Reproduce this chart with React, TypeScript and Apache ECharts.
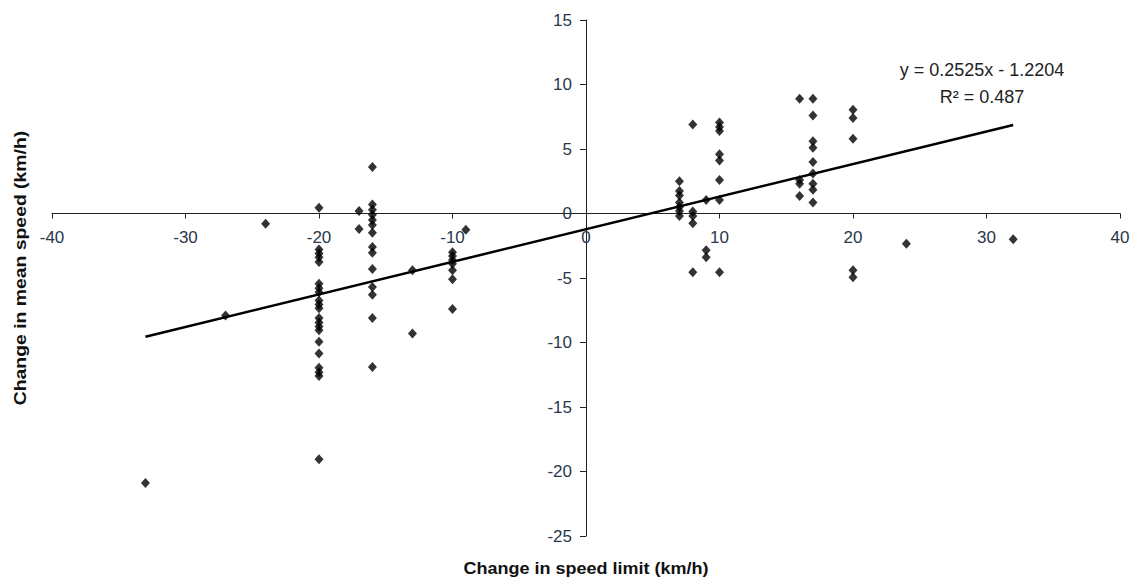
import React, { useEffect, useRef } from "react";
import * as echarts from "echarts";

// Change in speed limit (km/h) levels and the observed change in mean speed (km/h) at each
const speedLimitChanges = [-33, -27, -24, -20, -17, -16, -13, -10, -9, 7, 8, 9, 10, 16, 17, 20, 24, 32];
const meanSpeedChanges: number[][] = [
  [-20.9],
  [-7.9],
  [-0.8],
  [0.45, -2.8, -3.1, -3.4, -3.75, -5.45, -5.8, -6.1, -6.75, -7.05, -7.35, -8.1, -8.45, -8.75, -9.05, -9.95, -10.85, -11.95, -12.3, -12.6, -19.05],
  [0.2, -1.2],
  [3.6, 0.7, 0.3, -0.1, -0.5, -0.9, -1.5, -2.6, -3.05, -4.3, -5.7, -6.3, -8.1, -11.9],
  [-4.4, -9.3],
  [-3.0, -3.3, -3.6, -3.9, -4.4, -5.1, -7.4],
  [-1.25],
  [2.5, 1.75, 1.4, 0.85, 0.5, 0.2, -0.2],
  [6.9, 0.15, -0.2, -0.75, -4.55],
  [1.05, -2.85, -3.4],
  [7.05, 6.7, 6.4, 4.6, 4.1, 2.6, 1.05, -4.55],
  [8.9, 2.6, 2.3, 1.35],
  [8.9, 7.6, 5.6, 5.1, 4.0, 3.1, 2.3, 1.85, 0.85],
  [8.05, 7.4, 5.8, -4.4, -4.95],
  [-2.35],
  [-2.0],
];

// Axis ranges
const xRange = [-40, 40];
const yRange = [-25, 15];

// Linear trend line (as given on the chart)
const trendSlope = 0.2525;
const trendIntercept = -1.2204;
const trendXRange = [-33, 32];
const equationText = "y = 0.2525x - 1.2204";
const rSquaredText = "R\u00B2 = 0.487";

const xTitle = "Change in speed limit (km/h)";
const yTitle = "Change in mean speed (km/h)";

const FONT = "'Liberation Sans', Arial, Helvetica, sans-serif";

const W = 1136;
const H = 579;
const GRID = { left: 52, right: 16, top: 20, bottom: 43 };

export default function App() {
  const ref = useRef<HTMLDivElement>(null);

  useEffect(() => {
    if (!ref.current) return;
    const chart = echarts.init(ref.current, null, { renderer: "svg" });

    const points: number[][] = [];
    speedLimitChanges.forEach((x, i) => {
      meanSpeedChanges[i].forEach((y) => points.push([x, y]));
    });
    const trend = trendXRange.map((x) => [x, trendSlope * x + trendIntercept]);

    // Move the axes (line, ticks and labels) so they cross at the origin
    const gw = W - GRID.left - GRID.right;
    const gh = H - GRID.top - GRID.bottom;
    const yAxisOffset = -gw * (0 - xRange[0]) / (xRange[1] - xRange[0]);
    const xAxisOffset = -gh * (0 - yRange[0]) / (yRange[1] - yRange[0]);

    chart.setOption({
      animation: false,
      backgroundColor: "#ffffff",
      textStyle: { fontFamily: FONT },
      grid: { ...GRID, containLabel: false },
      xAxis: {
        type: "value",
        position: "bottom",
        offset: xAxisOffset,
        min: xRange[0],
        max: xRange[1],
        interval: 10,
        axisLine: { show: true, onZero: false, lineStyle: { color: "#222222", width: 1 } },
        axisTick: { show: true, length: 5, lineStyle: { color: "#222222" } },
        axisLabel: { color: "#2a374a", fontSize: 17, margin: 15, fontFamily: FONT },
        splitLine: { show: false },
      },
      yAxis: {
        type: "value",
        position: "left",
        offset: yAxisOffset,
        min: yRange[0],
        max: yRange[1],
        interval: 5,
        axisLine: { show: true, onZero: false, lineStyle: { color: "#222222", width: 1 } },
        axisTick: { show: true, length: 6, lineStyle: { color: "#222222" } },
        axisLabel: { color: "#2a374a", fontSize: 17, margin: 14, fontFamily: FONT },
        splitLine: { show: false },
      },
      series: [
        {
          type: "line",
          data: trend,
          symbol: "none",
          lineStyle: { color: "#000000", width: 2.5 },
          z: 2,
        },
        {
          type: "scatter",
          data: points,
          symbol: "diamond",
          symbolSize: [9, 10],
          itemStyle: { color: "#000000" },
          z: 3,
        },
      ],
      graphic: [
        {
          type: "text",
          x: 982,
          y: 70,
          style: {
            text: equationText,
            fontSize: 18,
            fontFamily: FONT,
            fill: "#222222",
            textAlign: "center",
            textVerticalAlign: "middle",
          },
        },
        {
          type: "text",
          x: 982,
          y: 97,
          style: {
            text: rSquaredText,
            fontSize: 18,
            fontFamily: FONT,
            fill: "#222222",
            textAlign: "center",
            textVerticalAlign: "middle",
          },
        },
        {
          type: "text",
          x: 586,
          y: 568,
          scaleX: 1.06,
          style: {
            text: xTitle,
            fontSize: 17,
            fontWeight: "bold",
            fontFamily: FONT,
            fill: "#111111",
            textAlign: "center",
            textVerticalAlign: "middle",
          },
        },
        {
          type: "text",
          x: 20,
          y: 268,
          rotation: Math.PI / 2,
          scaleX: 1.14,
          style: {
            text: yTitle,
            fontSize: 17,
            fontWeight: "bold",
            fontFamily: FONT,
            fill: "#111111",
            textAlign: "center",
            textVerticalAlign: "middle",
          },
        },
      ],
    });

    return () => chart.dispose();
  }, []);

  return (
    <div
      ref={ref}
      style={{ position: "fixed", left: 0, top: 0, width: W, height: H, background: "#fff" }}
    />
  );
}
